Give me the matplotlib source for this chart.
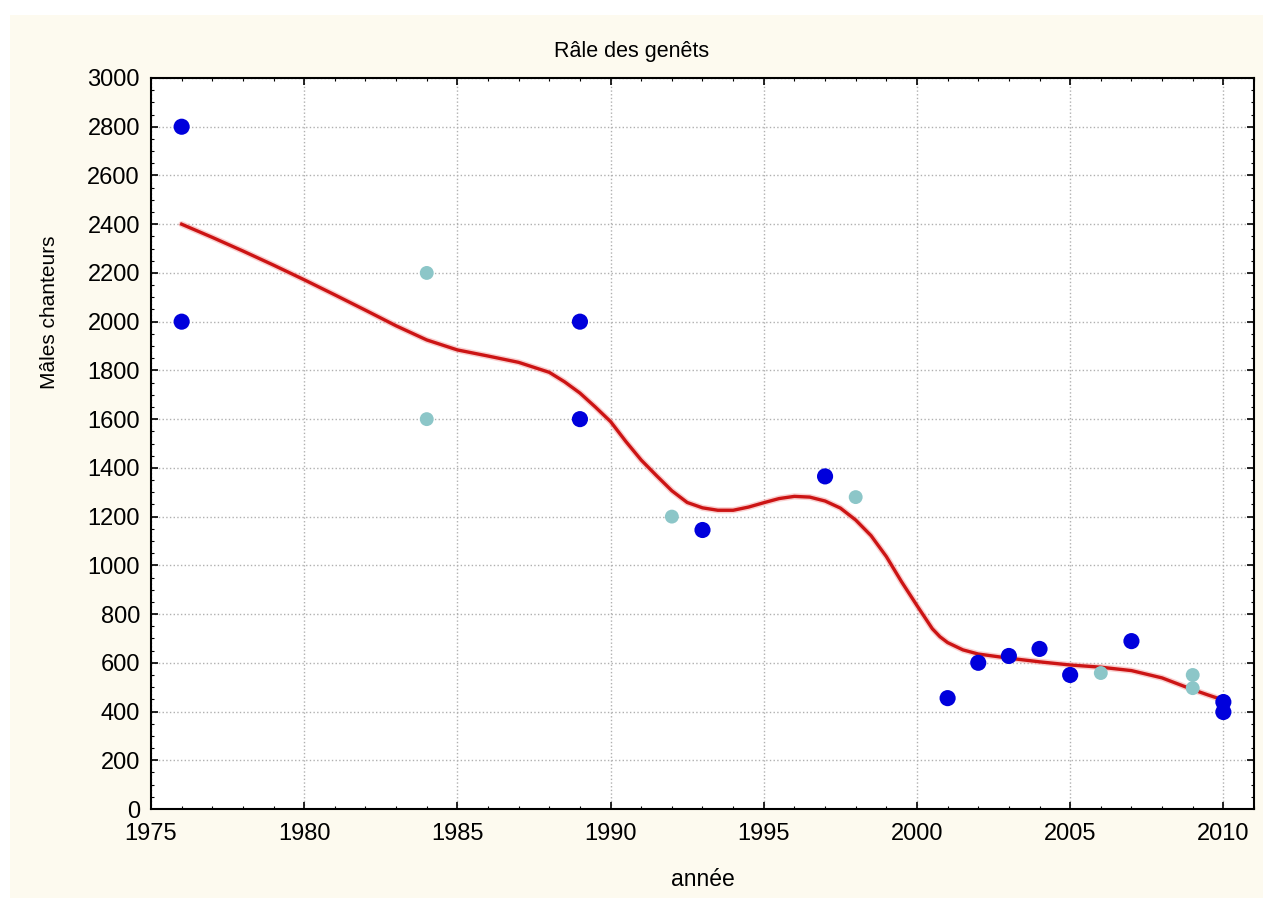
import matplotlib
matplotlib.use("Agg")
import matplotlib.pyplot as plt
from matplotlib.ticker import MultipleLocator
from matplotlib.patches import Rectangle

plt.rcParams['font.family'] = ['Liberation Sans', 'DejaVu Sans']

# observed counts (dark blue)
years_dark = [1976, 1976, 1989, 1989, 1993, 1997, 2001, 2002, 2003, 2004, 2005, 2007, 2010, 2010]
males_dark = [2800, 2000, 2000, 1600, 1145, 1365, 455, 600, 628, 657, 550, 689, 439, 398]

# second series (light cyan)
years_light = [1984, 1984, 1992, 1998, 2006, 2009, 2009]
males_light = [2200, 1600, 1200, 1280, 558, 550, 496]

# smoothed trend
trend_years = [1976, 1977, 1978, 1979, 1980, 1981, 1982, 1983, 1984, 1985, 1986, 1987,
               1988, 1988.5, 1989, 1989.5, 1990, 1990.5, 1991, 1991.5, 1992, 1992.5,
               1993, 1993.5, 1994, 1994.5, 1995, 1995.5, 1996, 1996.5, 1997, 1997.5,
               1998, 1998.5, 1999, 1999.5, 2000, 2000.5, 2000.75, 2001, 2001.5, 2002,
               2003, 2004, 2005, 2006, 2007, 2008, 2008.5, 2009, 2009.5, 2010]
trend_males = [2400, 2346, 2290, 2232, 2172, 2110, 2047, 1983, 1925, 1884, 1859, 1833,
               1792, 1753, 1707, 1650, 1590, 1508, 1432, 1368, 1306, 1258,
               1236, 1226, 1226, 1239, 1257, 1274, 1283, 1280, 1264, 1235,
               1186, 1122, 1036, 932, 835, 740, 707, 683, 653, 636,
               619, 604, 591, 582, 568, 538, 514, 490, 468, 447]

fig = plt.figure(figsize=(12.63, 8.98), dpi=100)
fig.patch.set_facecolor('white')
bg = Rectangle((10 / 1263, 0), 1, 1 - 15 / 898, transform=fig.transFigure,
               facecolor='#fdfaef', edgecolor='none', zorder=-10)
fig.add_artist(bg)

ax = fig.add_axes([151 / 1263, 1 - 809 / 898, (1254 - 151) / 1263, (809 - 78) / 898])
ax.set_zorder(1)
ax.set_facecolor('white')

ax.plot(trend_years, trend_males, color='#f4a0a0', lw=4.5, alpha=0.5, zorder=2,
        solid_capstyle='round')
ax.plot(trend_years, trend_males, color='#cc1414', lw=2.4, zorder=3,
        solid_joinstyle='round')
ax.scatter(years_light, males_light, s=100, color='#8cc6c8', edgecolors='none', zorder=4)
ax.scatter(years_dark, males_dark, s=135, color='#0000dc', edgecolors='none', zorder=5)

ax.set_xlim(1975, 2011)
ax.set_ylim(0, 3000)
ax.xaxis.set_major_locator(MultipleLocator(5))
ax.xaxis.set_minor_locator(MultipleLocator(1))
ax.yaxis.set_major_locator(MultipleLocator(200))
ax.yaxis.set_minor_locator(MultipleLocator(50))
ax.tick_params(which='both', direction='in', top=True, right=True, color='black')
ax.tick_params(which='major', length=5, width=1.2, labelsize=17)
ax.tick_params(axis='x', which='major', pad=10)
ax.tick_params(axis='y', which='major', pad=8)
ax.tick_params(which='minor', length=2.5, width=0.8)
ax.grid(True, which='major', linestyle=':', color='#b0b0b0', lw=1)
for s in ax.spines.values():
    s.set_linewidth(1.5)

fig.text(0.5, 1 - 52 / 898, "Râle des genêts", ha='center', va='center', fontsize=15.5)
fig.text(703 / 1263, 1 - 880 / 898, "année", ha='center', va='center', fontsize=16.5)
fig.text(50 / 1263, 1 - 312 / 898, "Mâles chanteurs", ha='center', va='center',
         rotation=90, fontsize=15)

fig.savefig("out.png", dpi=100, facecolor=fig.get_facecolor())
